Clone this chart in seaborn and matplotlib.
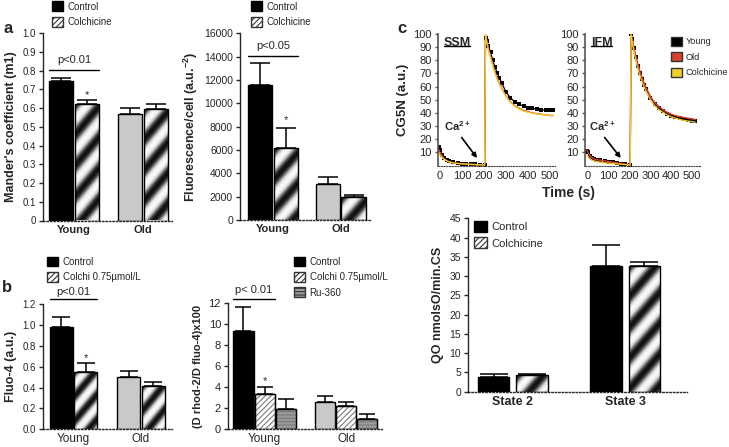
import numpy as np
import pandas as pd
import matplotlib
matplotlib.use('Agg')
import matplotlib.pyplot as plt
import seaborn as sns
from matplotlib.patches import Patch, Rectangle
from matplotlib.colors import LinearSegmentedColormap

sns.set_style('ticks')
plt.rcParams['font.family'] = ['Liberation Sans', 'DejaVu Sans']
plt.rcParams['mathtext.default'] = 'regular'
plt.rcParams['hatch.linewidth'] = 0.8

# ---- data ----
groups = ['Young', 'Old']

mander_ctrl = [0.744, 0.568]
mander_ctrl_err = [0.018, 0.034]
mander_colchi = [0.621, 0.598]
mander_colchi_err = [0.022, 0.023]

fluo_cell_ctrl = [11600, 3080]
fluo_cell_ctrl_err = [1890, 600]
fluo_cell_colchi = [6170, 1970]
fluo_cell_colchi_err = [1710, 200]

fluo4_ctrl = [0.986, 0.506]
fluo4_ctrl_err = [0.09, 0.057]
fluo4_colchi = [0.554, 0.416]
fluo4_colchi_err = [0.08, 0.042]

rhod_ctrl = [9.38, 2.55]
rhod_ctrl_err = [2.3, 0.58]
rhod_colchi = [3.29, 2.14]
rhod_colchi_err = [0.67, 0.41]
rhod_ru = [1.88, 0.93]
rhod_ru_err = [0.93, 0.47]

states = ['State 2', 'State 3']
qo_ctrl = [3.9, 32.7]
qo_ctrl_err = [0.6, 5.4]
qo_colchi = [4.4, 32.7]
qo_colchi_err = [0.3, 0.9]

curve_time = [-5, 0, 10, 20, 30, 40, 60, 80, 100, 120, 140, 160, 180, 203,
              207, 212, 220, 230, 240, 250, 260, 270, 280, 300, 320, 340, 360,
              380, 400, 420, 440, 460, 480, 500, 515]
ssm_young = [14, 12, 8, 6, 4.5, 3.5, 2.5, 2.0, 1.5, 1.2, 1.0, 0.8, 0.6, 0.4,
             97, 95, 91, 86, 80, 75, 70.5, 66.5, 63, 56, 51.5, 48.5, 46.5,
             45, 44, 43.5, 43, 42.5, 42, 42, 42.5]
ssm_old = [12, 10, 7, 5, 4, 3, 2, 1.5, 1.2, 1.0, 0.8, 0.6, 0.5, 0.3,
           99, 95, 89, 83, 77, 71, 66.5, 62.5, 59, 53, 48.5, 45.5, 43.5,
           42, 41, 40, 39.5, 39, 38.5, 38, 38]
ssm_colchi = [9, 8, 6, 4.5, 3.5, 2.8, 2, 1.6, 1.3, 1.1, 0.9, 0.7, 0.5, 0.3,
              100, 95, 88, 82, 76, 70.5, 66, 62, 58.5, 52.5, 48, 45, 43,
              41.5, 40.5, 39.8, 39.2, 38.8, 38.4, 38.2, 38]
ifm_young = [11, 10, 7, 5.5, 5, 4.5, 4, 3.5, 3, 2.5, 2, 1.5, 1, 0.5,
             100, 96, 89, 82.5, 76, 70.5, 66, 61.5, 58, 51.5, 47, 44, 41.5,
             39.5, 38, 37, 36, 35, 34.5, 34, 33.5]
ifm_old = [12, 10, 7.5, 6, 5, 4.5, 4, 3.5, 3, 2.5, 2, 1.5, 1, 0.4,
           100, 97, 90, 83, 77, 71.5, 67, 62.5, 59, 52.5, 48, 45, 42.5,
           40.5, 39, 38, 37.2, 36.5, 36, 35.5, 35]
ifm_colchi = [8, 7, 5, 4, 3.5, 3, 2.5, 2, 1.8, 1.5, 1.2, 1, 0.7, 0.3,
              99, 94, 87, 80, 73.5, 68, 63.5, 59.5, 56, 50, 45.5, 42.5, 40.5,
              38.5, 37, 36, 35, 34.3, 33.8, 33.3, 33]

W, H = 729, 447
fig = plt.figure(figsize=(W / 100, H / 100), dpi=100)


def px_axes(x0, y_top, x1, y_bot):
    return fig.add_axes([x0 / W, 1 - y_bot / H, (x1 - x0) / W, (y_bot - y_top) / H])


stripe_cmap = LinearSegmentedColormap.from_list(
    'stripe', ['#101010', '#4a4a4a', '#9a9a9a', '#dcdcdc', '#fafafa'])


def gradient_fill(ax, bar, period):
    bb = bar.get_window_extent()
    w = max(int(round(bb.width)), 1)
    h = max(int(round(bb.height)), 1)
    xx, yy = np.meshgrid(np.arange(w), np.arange(h))
    tex = 0.5 - 0.5 * np.cos(2 * np.pi * (xx + 0.85 * yy) / period)
    x0, y0 = bar.get_x(), bar.get_y()
    img = ax.imshow(tex, extent=[x0, x0 + bar.get_width(), y0, y0 + bar.get_height()],
                    origin='upper', cmap=stripe_cmap, aspect='auto',
                    interpolation='bilinear', zorder=bar.get_zorder() - 0.05)
    img.set_clip_path(bar)
    bar.set_facecolor('none')


def hatch_fill(ax, bar, hatch, face='white'):
    bar.set_facecolor(face)
    bar.set_hatch(hatch)
    bar.set_edgecolor('#7a7a7a')
    ax.add_patch(Rectangle((bar.get_x(), bar.get_y()), bar.get_width(), bar.get_height(),
                           fill=False, edgecolor='black', lw=1, zorder=bar.get_zorder() + 0.1))


def bar_panel(ax, cats, names, series, errs, fills, width, gap, xlim, ylim, capsize, period=26):
    rows = []
    for name, vals in zip(names, series):
        for c, v in zip(cats, vals):
            rows.append({'cat': c, 'treat': name, 'value': v})
    df = pd.DataFrame(rows)
    sns.barplot(data=df, x='cat', y='value', hue='treat', hue_order=names,
                palette=['#888888'] * len(names), errorbar=None, legend=False,
                width=width, gap=gap, saturation=1, edgecolor='black',
                linewidth=1, ax=ax)
    ax.set_xlim(*xlim)
    ax.set_ylim(*ylim)
    bars = list(ax.containers)
    for i, cont in enumerate(bars):
        xs = [b.get_x() + b.get_width() / 2 for b in cont]
        ax.errorbar(xs, series[i], yerr=[np.zeros(len(cats)), errs[i]], fmt='none',
                    ecolor='black', elinewidth=1.1, capsize=capsize, capthick=1.1,
                    zorder=3)
        for j, b in enumerate(cont):
            f = fills[i][j]
            if f == 'grad':
                gradient_fill(ax, b, period)
            elif f == 'hatch':
                hatch_fill(ax, b, '//////')
            elif f == 'ru':
                hatch_fill(ax, b, '-----', face='#9a9a9a')
            else:
                b.set_facecolor(f)
    sns.despine(ax=ax)
    ax.spines['bottom'].set_linestyle((0, (1, 1.5)))
    ax.spines['bottom'].set_linewidth(1)
    ax.spines['left'].set_linewidth(1)
    ax.tick_params(axis='x', length=0, pad=3)
    ax.tick_params(axis='y', length=3, width=1, pad=2)
    ax.set_xlabel('')
    return bars


def bracket(ax, bars, y, text, ty, fs=8):
    x0 = bars[0][0].get_x()
    x1 = bars[1][0].get_x() + bars[1][0].get_width()
    ax.plot([x0, x1], [y, y], color='black', lw=1, clip_on=False)
    ax.text((x0 + x1) / 2, ty, text, ha='center', va='center', fontsize=fs, clip_on=False)


def star(ax, bars, y):
    b = bars[1][0]
    ax.text(b.get_x() + b.get_width() / 2, y, '*', ha='center', va='center', fontsize=8)


def legend_at(handles, labels, x, y, fs=7, spacing=0.55):
    fig.legend(handles, labels, loc='upper left', bbox_to_anchor=(x / W, 1 - y / H),
               frameon=False, fontsize=fs, handlelength=1.15, handleheight=1.15,
               handletextpad=0.45, labelspacing=spacing, borderpad=0, borderaxespad=0)


light = '#c9c9c9'

# ---- panel a, left ----
ax = px_axes(43, 33.3, 172, 220.5)
bars = bar_panel(ax, groups, ['Control', 'Colchicine'], [mander_ctrl, mander_colchi],
                 [mander_ctrl_err, mander_colchi_err], [['black', light], ['grad', 'grad']],
                 0.75, 0.05, (-0.45, 1.42), (0, 1.0), 7)
ax.set_yticks(np.arange(0, 1.01, 0.1))
ax.set_yticklabels(['0'] + ['%.1f' % v for v in np.arange(0.1, 1.01, 0.1)], fontsize=7)
ax.set_xticks([0, 1])
ax.set_xticklabels(groups, fontsize=8, fontweight='bold')
ax.set_ylabel("Mander's coefficient (m1)", fontsize=9, fontweight='bold', labelpad=4)
bracket(ax, bars, 0.806, 'p<0.01', 0.855)
star(ax, bars, 0.672)

# ---- panel a, right ----
ax = px_axes(240, 33.3, 370, 220)
bars = bar_panel(ax, groups, ['Control', 'Colchicine'], [fluo_cell_ctrl, fluo_cell_colchi],
                 [fluo_cell_ctrl_err, fluo_cell_colchi_err], [['black', light], ['grad', 'grad']],
                 0.75, 0.05, (-0.485, 1.43), (0, 16000), 7)
ax.set_yticks(np.arange(0, 16001, 2000))
ax.set_yticklabels([str(int(v)) for v in np.arange(0, 16001, 2000)], fontsize=7.5)
ax.set_xticks([0, 1])
ax.set_xticklabels(groups, fontsize=8, fontweight='bold')
ax.set_ylabel('Fluorescence/cell (a.u.$^{-2}$)', fontsize=9, fontweight='bold', labelpad=3)
bracket(ax, bars, 14050, 'p<0.05', 14950)
star(ax, bars, 8600)

# ---- panel b, left ----
ax = px_axes(43, 304.3, 172, 429.3)
bars = bar_panel(ax, groups, ['Control', 'Colchi 0.75µmol/L'], [fluo4_ctrl, fluo4_colchi],
                 [fluo4_ctrl_err, fluo4_colchi_err], [['black', light], ['grad', 'grad']],
                 0.72, 0.06, (-0.45, 1.46), (0, 1.2), 6.5, period=21)
ax.set_yticks(np.arange(0, 1.21, 0.2))
ax.set_yticklabels(['%.1f' % v for v in np.arange(0, 1.21, 0.2)], fontsize=7)
ax.set_xticks([0, 1])
ax.set_xticklabels(groups, fontsize=8.5)
ax.set_ylabel('Fluo-4 (a.u.)', fontsize=9, fontweight='bold', labelpad=4)
bracket(ax, bars, 1.25, 'p<0.01', 1.315)
star(ax, bars, 0.685)

# ---- panel b, right ----
ax = px_axes(228, 303.3, 382, 428.7)
bars = bar_panel(ax, groups, ['Control', 'Colchi 0.75µmol/L', 'Ru-360'],
                 [rhod_ctrl, rhod_colchi, rhod_ru], [rhod_ctrl_err, rhod_colchi_err, rhod_ru_err],
                 [['black', light], ['hatch', 'hatch'], ['ru', 'ru']],
                 0.78, 0.05, (-0.45, 1.44), (0, 12), 6)
ax.set_yticks(np.arange(0, 12.1, 2))
ax.set_yticklabels([str(int(v)) for v in np.arange(0, 12.1, 2)], fontsize=8)
ax.set_xticks([0, 1])
ax.set_xticklabels(groups, fontsize=8.5)
ax.set_ylabel('(D rhod-2/D fluo-4)x100', fontsize=8, fontweight='bold', labelpad=4)
bracket(ax, bars, 12.4, 'p< 0.01', 13.3)
star(ax, bars, 4.6)

# ---- panel c, top: calcium retention curves ----
curve_colors = {'Young': 'black', 'Old': '#d9402f', 'Colchicine': '#f1c62a'}


def curve_panel(ax, young, old, colchi, title, xlim, arrow_from, arrow_to, ca_pos):
    df = pd.DataFrame({'time': curve_time * 2, 'value': old + colchi,
                       'group': ['Old'] * len(curve_time) + ['Colchicine'] * len(curve_time)})
    sns.lineplot(x=curve_time, y=young, color='black', lw=0.9, marker='s', markersize=2.2,
                 markeredgewidth=0, estimator=None, sort=False, ax=ax)
    sns.lineplot(data=df, x='time', y='value', hue='group', palette=curve_colors,
                 estimator=None, sort=False, lw=1, legend=False, ax=ax)
    ax.set_xlim(*xlim)
    ax.set_ylim(0, 100)
    ax.set_yticks(np.arange(10, 101, 10))
    ax.set_xticks(np.arange(0, 501, 100))
    ax.tick_params(axis='both', labelsize=8)
    ax.tick_params(axis='x', length=0, pad=4)
    ax.tick_params(axis='y', length=2.5, width=1, pad=2, color='#555555')
    sns.despine(ax=ax)
    ax.spines['left'].set_color('#555555')
    ax.spines['left'].set_linewidth(1.2)
    ax.spines['bottom'].set_linestyle((0, (1, 1.5)))
    ax.spines['bottom'].set_color('#444444')
    ax.set_xlabel('')
    ax.set_ylabel('')
    ax.text(0.05, 0.975, title, transform=ax.transAxes, fontsize=9, fontweight='bold',
            ha='left', va='top')
    ax.annotate('', xy=arrow_to, xytext=arrow_from,
                arrowprops=dict(arrowstyle='-|>', color='black', lw=1.2, mutation_scale=7))
    ax.text(ca_pos[0], ca_pos[1], 'Ca$^{2+}$', ha='center', va='center', fontsize=8,
            fontweight='bold')


ax_ssm = px_axes(438, 34, 555, 165.5)
curve_panel(ax_ssm, ssm_young, ssm_old, ssm_colchi, 'SSM', (-9, 523),
            (91, 23), (176, 4), (80, 30))
ax_ssm.plot([0.05, 0.27], [0.905, 0.905], transform=ax_ssm.transAxes, color='black', lw=1)
ax_ssm.set_ylabel('CG5N (a.u.)', fontsize=9.5, fontweight='bold', labelpad=3)

ax_ifm = px_axes(585, 34, 700, 165.5)
curve_panel(ax_ifm, ifm_young, ifm_old, ifm_colchi, 'IFM', (-14, 538),
            (72, 23), (166, 4), (70, 30))
ax_ifm.plot([0.05, 0.235], [0.905, 0.905], transform=ax_ifm.transAxes, color='black', lw=1)

fig.text(569 / W, 1 - 193 / H, 'Time (s)', ha='center', va='center', fontsize=10,
         fontweight='bold')

# ---- panel c, bottom: respiration ----
ax = px_axes(468, 218.3, 687, 391.7)
bar_panel(ax, states, ['Control', 'Colchicine'], [qo_ctrl, qo_colchi],
          [qo_ctrl_err, qo_colchi_err], [['black', 'black'], ['grad', 'grad']],
          0.68, 0.18, (-0.4, 1.55), (0, 45), 10)
ax.set_yticks(np.arange(0, 46, 5))
ax.set_yticklabels([str(int(v)) for v in np.arange(0, 46, 5)], fontsize=7.5)
ax.set_xticks([0, 1])
ax.set_xticklabels(states, fontsize=9, fontweight='bold')
ax.set_ylabel('QO nmolsO/min.CS', fontsize=9, fontweight='bold', labelpad=4)

# ---- legends ----
ctrl_h = Patch(facecolor='black', edgecolor='black')
colchi_h = Patch(facecolor='white', edgecolor='#333333', hatch='//////')
legend_at([ctrl_h, colchi_h], ['Control', 'Colchicine'], 52, 1.5)
legend_at([ctrl_h, colchi_h], ['Control', 'Colchicine'], 251, 1.5)
legend_at([ctrl_h, colchi_h], ['Control', 'Colchi 0.75µmol/L'], 47, 256.5)
legend_at([ctrl_h, colchi_h, Patch(facecolor='#9a9a9a', edgecolor='#333333', hatch='-----')],
          ['Control', 'Colchi 0.75µmol/L', 'Ru-360'], 294, 256.5)
legend_at([Patch(facecolor='black', edgecolor='#333333'),
           Patch(facecolor='#d9402f', edgecolor='#333333'),
           Patch(facecolor='#f1d02a', edgecolor='#333333')],
          ['Young', 'Old', 'Colchicine'], 671, 36.5, fs=6.6, spacing=0.65)
legend_at([ctrl_h, colchi_h], ['Control', 'Colchicine'], 474, 220.5, fs=8, spacing=0.5)

# panel letters
fig.text(4 / W, 1 - 33 / H, 'a', fontsize=12, fontweight='bold', va='baseline')
fig.text(2 / W, 1 - 292 / H, 'b', fontsize=12, fontweight='bold', va='baseline')
fig.text(397 / W, 1 - 33 / H, 'c', fontsize=12, fontweight='bold', va='baseline')

fig.savefig('out.png', dpi=100)
